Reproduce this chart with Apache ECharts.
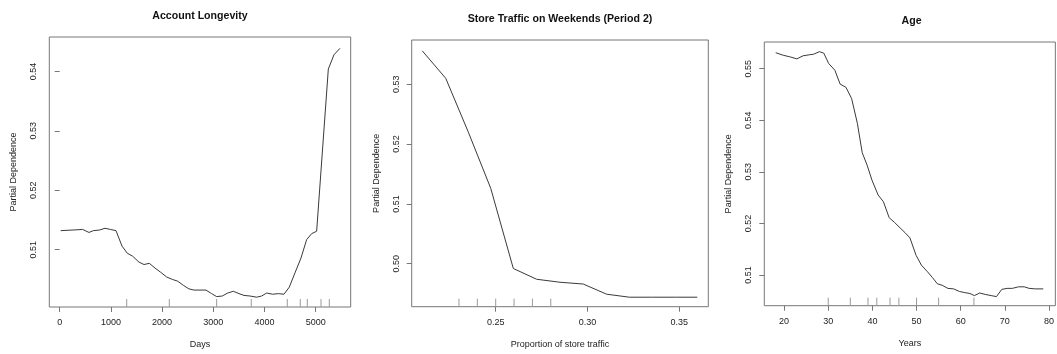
<!DOCTYPE html>
<html>
<head>
<meta charset="utf-8">
<title>Partial Dependence</title>
<script src="https://cdn.jsdelivr.net/npm/echarts@6/dist/echarts.min.js"></script>
<style>
  html, body { margin: 0; padding: 0; background: #fff; }
  #chart { width: 1057px; height: 354px; }
</style>
</head>
<body>
<div id="chart"></div>
<script>
// ---- Account Longevity ----
const longevityDays = [19, 449, 572, 657, 774, 885, 995, 1100, 1217, 1321, 1425, 1549, 1647, 1751, 1862, 1972, 2089, 2200, 2304, 2415, 2525, 2623, 2857, 2968, 3066, 3176, 3281, 3391, 3502, 3600, 3717, 3847, 3945, 4043, 4160, 4270, 4381, 4485, 4596, 4713, 4824, 4922, 5019, 5247, 5357, 5475];
const longevityPD = [0.5132, 0.5134, 0.5129, 0.5132, 0.5133, 0.5136, 0.5134, 0.5132, 0.5106, 0.5094, 0.5089, 0.5079, 0.5075, 0.5077, 0.5069, 0.5062, 0.5054, 0.5050, 0.5047, 0.5040, 0.5034, 0.5032, 0.5032, 0.5026, 0.5021, 0.5022, 0.5027, 0.5030, 0.5026, 0.5023, 0.5022, 0.5020, 0.5022, 0.5027, 0.5025, 0.5026, 0.5025, 0.5037, 0.5061, 0.5086, 0.5117, 0.5127, 0.5131, 0.5404, 0.5428, 0.5439];
const longevityRug = [1309, 2141, 3066, 3742, 4445, 4699, 4836, 5104, 5266];
const longevityXTicks = [0, 1000, 2000, 3000, 4000, 5000];
const longevityYTicks = [0.51, 0.52, 0.53, 0.54];

// ---- Store Traffic on Weekends (Period 2) ----
const trafficShare = [0.2100, 0.2228, 0.2351, 0.2473, 0.2596, 0.2723, 0.2850, 0.2977, 0.3104, 0.3228, 0.3353, 0.3478, 0.3598];
const trafficPD = [0.5356, 0.5310, 0.5220, 0.5126, 0.4992, 0.4974, 0.4969, 0.4966, 0.4949, 0.4944, 0.4944, 0.4944, 0.4944];
const trafficRug = [0.23, 0.24, 0.25, 0.26, 0.27, 0.28];
const trafficXTicks = [0.25, 0.30, 0.35];
const trafficYTicks = [0.50, 0.51, 0.52, 0.53];

// ---- Age ----
const ageYears = [18.1, 19.8, 21.3, 22.9, 24.3, 25.8, 26.7, 28.0, 29.0, 30.1, 31.5, 32.7, 34.0, 35.3, 36.6, 37.7, 38.8, 39.9, 41.3, 42.5, 43.8, 45.0, 46.3, 47.4, 48.5, 49.9, 51.1, 52.5, 53.6, 54.7, 55.8, 57.1, 58.4, 59.7, 60.8, 62.1, 63.1, 64.3, 65.7, 66.9, 68.1, 69.3, 70.5, 71.7, 73.1, 74.4, 75.5, 76.9, 78.7];
const agePD = [0.5531, 0.5526, 0.5523, 0.5519, 0.5525, 0.5527, 0.5528, 0.5533, 0.5530, 0.5510, 0.5497, 0.5470, 0.5464, 0.5442, 0.5394, 0.5337, 0.5313, 0.5284, 0.5255, 0.5242, 0.5211, 0.5202, 0.5191, 0.5182, 0.5172, 0.5138, 0.5119, 0.5106, 0.5095, 0.5083, 0.5080, 0.5074, 0.5073, 0.5068, 0.5066, 0.5064, 0.5060, 0.5065, 0.5062, 0.5060, 0.5058, 0.5072, 0.5074, 0.5074, 0.5077, 0.5077, 0.5074, 0.5073, 0.5073];
const ageRug = [30, 35, 39, 41, 44, 46, 50, 55, 63];
const ageXTicks = [20, 30, 40, 50, 60, 70, 80];
const ageYTicks = [0.51, 0.52, 0.53, 0.54, 0.55];

const titles = ['Account Longevity', 'Store Traffic on Weekends (Period 2)', 'Age'];
const xNames = ['Days', 'Proportion of store traffic', 'Years'];
const yName = 'Partial Dependence';

// plot regions and axis extents
const panels = [
  { left: 49.3, top: 37, width: 301.4, height: 271.3, xMin: -203, xMax: 5684, yMin: 0.50035, yMax: 0.54580 },
  { left: 411.7, top: 40, width: 296.6, height: 266.7, xMin: 0.20425, xMax: 0.36580, yMin: 0.49281, yMax: 0.53741 },
  { left: 764.3, top: 42, width: 294.5, height: 263.7, xMin: 15.52, xMax: 81.44, yMin: 0.50404, yMax: 0.55517 }
];

const FONT = '"Liberation Sans", Arial, Helvetica, sans-serif';
const TEXT = '#222';
const BOX = '#777';

const lines = [
  { x: longevityDays, y: longevityPD, rug: longevityRug, xt: longevityXTicks, yt: longevityYTicks, xfmt: v => String(v) },
  { x: trafficShare, y: trafficPD, rug: trafficRug, xt: trafficXTicks, yt: trafficYTicks, xfmt: v => v.toFixed(2) },
  { x: ageYears, y: agePD, rug: ageRug, xt: ageXTicks, yt: ageYTicks, xfmt: v => String(v) }
];

const grid = [], xAxis = [], yAxis = [], series = [], graphic = [];

panels.forEach((p, i) => {
  const d = lines[i];
  grid.push({
    left: p.left, top: p.top, width: p.width, height: p.height,
    show: true, borderColor: BOX, borderWidth: 1, backgroundColor: 'transparent',
    containLabel: false
  });
  xAxis.push({
    type: 'value', gridIndex: i, min: p.xMin, max: p.xMax,
    axisLine: { show: false },
    axisTick: { show: true, inside: false, length: 5, customValues: d.xt, lineStyle: { color: BOX } },
    axisLabel: { customValues: d.xt, formatter: d.xfmt, margin: 11, color: TEXT, fontFamily: FONT, fontSize: 9 },
    splitLine: { show: false },
    name: xNames[i], nameLocation: 'middle', nameGap: 33,
    nameTextStyle: { color: TEXT, fontFamily: FONT, fontSize: 9 }
  });
  yAxis.push({
    type: 'value', gridIndex: i, min: p.yMin, max: p.yMax,
    axisLine: { show: false },
    axisTick: { show: true, inside: false, length: 5, customValues: d.yt, lineStyle: { color: BOX } },
    axisLabel: { customValues: d.yt, formatter: v => v.toFixed(2), rotate: 90, margin: 11, color: TEXT, fontFamily: FONT, fontSize: 9 },
    splitLine: { show: false },
    name: yName, nameLocation: 'middle', nameGap: 31,
    nameTextStyle: { color: TEXT, fontFamily: FONT, fontSize: 9 }
  });
  series.push({
    type: 'line', xAxisIndex: i, yAxisIndex: i,
    data: d.x.map((v, k) => [v, d.y[k]]),
    showSymbol: false, symbol: 'none', smooth: false,
    lineStyle: { color: '#3a3a3a', width: 1 },
    silent: true, animation: false
  });
  // rug marks along the bottom of each plot
  series.push({
    type: 'custom', xAxisIndex: i, yAxisIndex: i,
    data: d.rug.map(v => [v, p.yMin]),
    renderItem: (params, api) => {
      const pt = api.coord([api.value(0), api.value(1)]);
      return {
        type: 'line',
        shape: { x1: pt[0], y1: pt[1], x2: pt[0], y2: pt[1] - 8 },
        style: { stroke: '#9a9a9a', lineWidth: 1 }
      };
    },
    silent: true, animation: false
  });
  graphic.push({
    type: 'text',
    x: p.left + p.width / 2, y: p.top - 20.5,
    style: {
      text: titles[i], fill: '#111',
      font: 'bold 10.6px ' + FONT,
      textAlign: 'center', textVerticalAlign: 'middle'
    },
    silent: true
  });
});

const chart = echarts.init(document.getElementById('chart'), null, { renderer: 'canvas' });
chart.setOption({
  backgroundColor: '#ffffff',
  animation: false,
  grid, xAxis, yAxis, series, graphic
});
</script>
</body>
</html>
